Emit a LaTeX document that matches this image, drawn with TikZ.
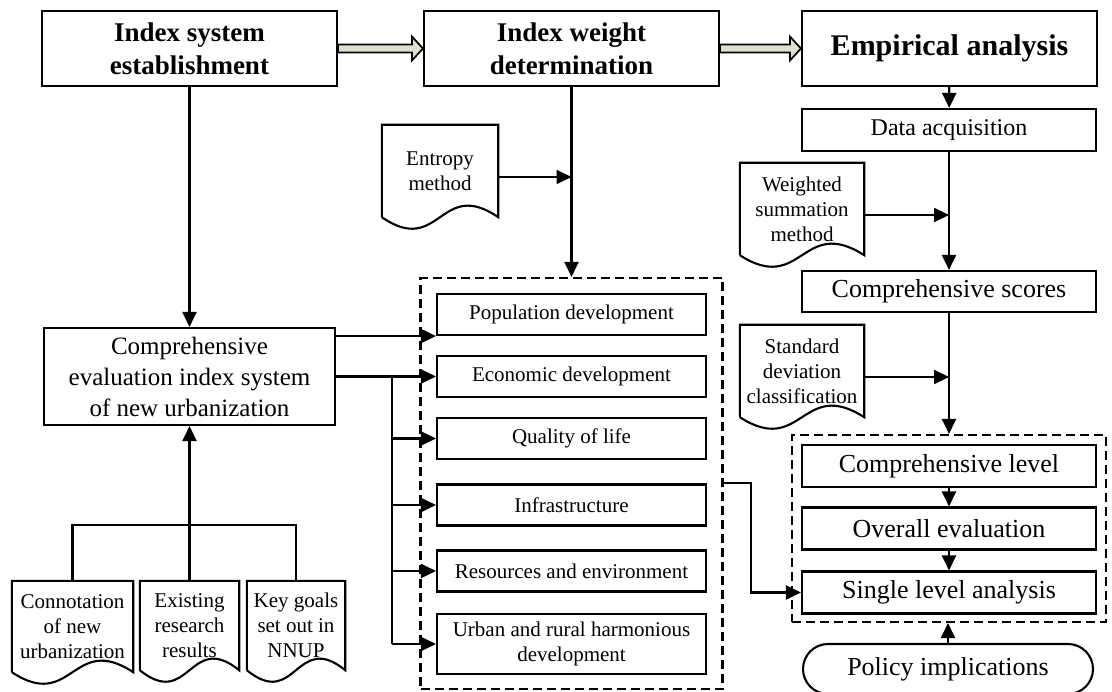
\documentclass[tikz,border=0pt]{standalone}
\usepackage{fontspec}
\setmainfont{Liberation Serif}
\usetikzlibrary{arrows.meta}
\usetikzlibrary{calc}
\definecolor{hollowfill}{RGB}{221,226,206}
\tikzset{x=1pt, y=-1pt, % pixel units, y grows downward
topbox/.style={ % the three stage boxes
draw, line width=2.1pt,
minimum width=295pt, minimum height=75pt,
align=center, inner sep=0pt,
font=\bfseries\fontsize{27}{33}\selectfont},
bigbox/.style={ % boxes with large text
draw, line width=2.1pt,
minimum width=294pt, minimum height=42pt,
align=center, inner sep=0pt,
font=\fontsize{26}{31}\selectfont},
itembox/.style={ % indicator boxes
draw, line width=2.1pt,
minimum width=269pt, minimum height=41pt,
align=center, inner sep=0pt,
font=\fontsize{21}{25}\selectfont},
docbox/.style={ % document shapes, outline drawn later
minimum height=92pt,
align=center, inner sep=0pt,
font=\fontsize{21}{25}\selectfont},
groupbox/.style={ % dashed frames
draw, line width=2.1pt, dash pattern=on 9pt off 5pt},
ln/.style={line width=2.1pt},
arr/.style={line width=2.1pt, -{Triangle[length=15pt,width=14pt]}},
fatarrow/.style={draw, line width=1.7pt, fill=hollowfill, line join=miter}}

\begin{document}
\begin{tikzpicture}
    \useasboundingbox (0,0) rectangle (1112,692);
    % top row
    \node[topbox] (ise) at (189.5,48.5) {Index system\\establishment};
    \node[topbox] (iwd) at (571.5,48.5) {Index weight\\determination};
    \node[topbox, font=\bfseries\fontsize{30}{35}\selectfont] (ea) at (949.5,48.5) {Empirical analysis};
    \foreach \a/\b in {ise/iwd, iwd/ea}
      \path[fatarrow] ($(\a.east)+(0,-4)$) -- ($(\b.west)+(-11,-4)$) -- ($(\b.west)+(-11,-12)$)
        -- (\b.west) -- ($(\b.west)+(-11,12)$) -- ($(\b.west)+(-11,4)$) -- ($(\a.east)+(0,4)$) -- cycle;
    % left column
    \node[bigbox, minimum width=291pt, minimum height=97pt, font=\fontsize{25}{31}\selectfont] (ceis) at (189.5,376.5)
      {Comprehensive\\evaluation index system\\of new urbanization};
    \node[docbox, minimum width=121pt, minimum height=91pt] (cnu) at (72.5,626.5) {Connotation\\of new\\urbanization};
    \node[docbox, minimum width=99pt, minimum height=89pt] (err) at (189.5,625.5) {Existing\\research\\results};
    \node[docbox, minimum width=98pt, minimum height=89pt] (kgn) at (296,625.5) {Key goals\\set out in\\NNUP};
    \coordinate (jn) at (189.5,525);
    % middle column
    \node[docbox, minimum width=116pt] (em) at (440,171) {Entropy\\method};
    \node[groupbox, minimum width=302pt, minimum height=411pt] (grp1) at (571.5,483.5) {};
    \node[itembox] (pd) at (571.5,314.5) {Population development};
    \node[itembox] (ed) at (571.5,376.5) {Economic development};
    \node[itembox] (qol) at (571.5,438.5) {Quality of life};
    \node[itembox] (inf) at (571.5,505) {Infrastructure};
    \node[itembox] (res) at (571.5,571) {Resources and environment};
    \node[itembox, minimum height=60pt] (urd) at (571.5,644) {Urban and rural harmonious\\development};
    \coordinate (br) at (392,376.5);
    \coordinate (elbow) at (751,540);
    % right column
    \node[bigbox, font=\fontsize{24}{29}\selectfont] (da) at (949,130) {Data acquisition};
    \node[docbox, minimum width=124pt] (wsm) at (802,209) {Weighted\\summation\\method};
    \node[bigbox, minimum height=41pt] (cs) at (949,291.5) {Comprehensive scores};
    \node[docbox, minimum width=124pt] (sdc) at (802,371) {Standard\\deviation\\classification};
    \node[groupbox, minimum width=314pt, minimum height=187pt] (grp2) at (949,528.5) {};
    \node[bigbox] (cl) at (949,466) {Comprehensive level};
    \node[bigbox] (oe) at (949,528.5) {Overall evaluation};
    \node[bigbox] (sla) at (949,592.5) {Single level analysis};
    \node[bigbox, minimum width=290pt, minimum height=50pt, rounded corners=25pt] (pi) at (948,669) {Policy implications};
    % document outlines
    \foreach \n in {em, wsm, sdc, cnu, err, kgn}
      \draw[ln] (\n.south west) -- (\n.north west) -- (\n.north east) -- (\n.south east)
        .. controls ($(\n.south)+(0,-40)$) and ($(\n.south)+(0,40)$) .. (\n.south west);
    % connectors
    \draw[arr] (ise) -- (ceis);
    \draw[ln] (cnu.north) |- (jn) -| (kgn.north);
    \draw[arr] (err.north) -- (ceis.south);
    \draw[arr] (iwd.south) -- (iwd.south |- grp1.north);
    \draw[arr] ([yshift=-6pt]em.east) -- ([yshift=-6pt]em.east -| iwd.south);
    \draw[arr] (ceis.east |- pd.south west) -- (pd.south west);
    \draw[arr] (ceis.east) -- (ed.west);
    \draw[ln] (br) -- (br |- urd.west);
    \foreach \b in {qol, inf, res, urd}
      \draw[arr] (br |- \b.west) -- (\b.west);
    \draw[arr] (grp1.east |- inf.north) -| (elbow) |- (sla.west);
    \draw[arr] (ea) -- (da);
    \draw[arr] (da) -- (cs);
    \draw[arr] ([yshift=-6pt]wsm.east) -- ([yshift=-6pt]wsm.east -| da.south);
    \draw[arr] (cs) -- (cs.south |- grp2.north);
    \draw[arr] ([yshift=-6pt]sdc.east) -- ([yshift=-6pt]sdc.east -| cs.south);
    \draw[arr] (cl) -- (oe);
    \draw[arr] (oe) -- (sla);
    \draw[arr] (pi) -- (pi.north |- grp2.south);
\end{tikzpicture}
\end{document}
